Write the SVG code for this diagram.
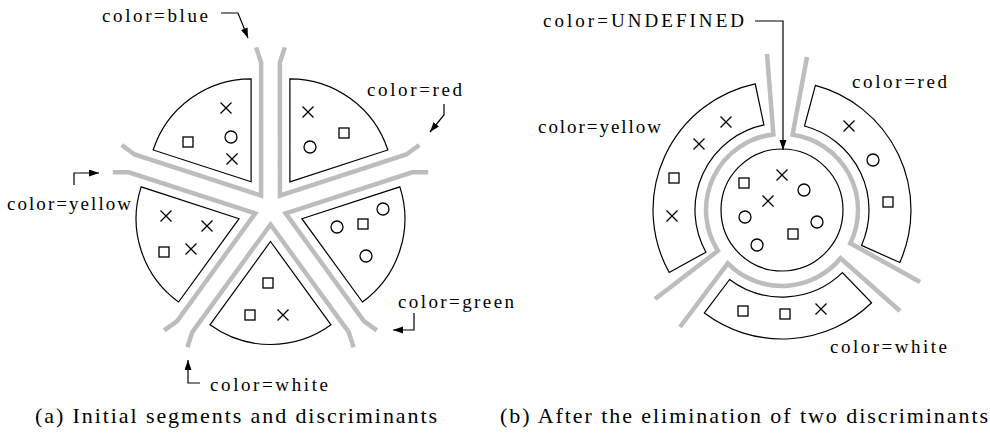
<svg xmlns="http://www.w3.org/2000/svg" width="990" height="441" viewBox="0 0 990 441">
<style>
.seg{fill:none;stroke:#000;stroke-width:1.2}
.disc{fill:none;stroke:#bdbdbd;stroke-width:4.5;stroke-linejoin:miter}
.sym{fill:none;stroke:#000;stroke-width:1.3}
.lbl{font-family:"Liberation Serif","DejaVu Serif",serif;font-size:19px;fill:#000}
.cap{font-family:"Liberation Serif","DejaVu Serif",serif;font-size:22px;fill:#000}
.ptr{fill:none;stroke:#000;stroke-width:1.2}
</style>
<defs>
<path id="wedge" d="M33 0 L116.33 -60.54 A103 103 0 0 1 116.33 60.54 Z"/>
<path id="vee" d="M138.8 -83.1 L123.6 -78.2 L16 0 L123.6 78.2 L138.8 83.1"/>
<path id="x" d="M-5.5 -5.5 L5.5 5.5 M-5.5 5.5 L5.5 -5.5"/>
<rect id="sq" x="-5" y="-5" width="10" height="10"/>
<circle id="o" r="6"/>
<marker id="ah" markerWidth="11" markerHeight="8" refX="10" refY="3.5" orient="auto" markerUnits="userSpaceOnUse"><path d="M0 0 L10 3.5 L0 7 Z" fill="#000"/></marker>
</defs>
<rect width="990" height="441" fill="#fff"/>

<!-- (a) discriminants -->
<g id="discriminants-a" class="disc">
<use href="#vee" transform="translate(270.5 208.5) rotate(234)"/>
<use href="#vee" transform="translate(270.5 208.5) rotate(306)"/>
<use href="#vee" transform="translate(270.5 208.5) rotate(18)"/>
<use href="#vee" transform="translate(270.5 208.5) rotate(90)"/>
<use href="#vee" transform="translate(270.5 208.5) rotate(162)"/>
</g>

<g id="a-blue">
<use href="#wedge" class="seg" transform="translate(270.5 208.5) rotate(234)"/>
<use href="#x" class="sym" x="226" y="108"/><use href="#sq" class="sym" x="188" y="142"/><use href="#o" class="sym" x="231" y="137"/><use href="#x" class="sym" x="232" y="159"/>
<text class="lbl" x="102" y="21.5" textLength="106" lengthAdjust="spacing">color=blue</text>
</g>
<g id="a-red">
<use href="#wedge" class="seg" transform="translate(270.5 208.5) rotate(306)"/>
<use href="#x" class="sym" x="308" y="112"/><use href="#sq" class="sym" x="344" y="133"/><use href="#o" class="sym" x="310" y="147"/>
<text class="lbl" x="367" y="95.5" textLength="95" lengthAdjust="spacing">color=red</text>
</g>
<g id="a-green">
<use href="#wedge" class="seg" transform="translate(270.5 208.5) rotate(18)"/>
<use href="#o" class="sym" x="383" y="209"/><use href="#o" class="sym" x="337" y="227"/><use href="#sq" class="sym" x="363" y="224"/><use href="#o" class="sym" x="366" y="256"/>
<text class="lbl" x="398" y="308" textLength="116" lengthAdjust="spacing">color=green</text>
</g>
<g id="a-white">
<use href="#wedge" class="seg" transform="translate(270.5 208.5) rotate(90)"/>
<use href="#sq" class="sym" x="268" y="283"/><use href="#sq" class="sym" x="250" y="315"/><use href="#x" class="sym" x="283" y="315"/>
<text class="lbl" x="210" y="391" textLength="118" lengthAdjust="spacing">color=white</text>
</g>
<g id="a-yellow">
<use href="#wedge" class="seg" transform="translate(270.5 208.5) rotate(162)"/>
<use href="#x" class="sym" x="166" y="216"/><use href="#x" class="sym" x="207" y="226"/><use href="#sq" class="sym" x="164" y="252"/><use href="#x" class="sym" x="191" y="249"/>
<text class="lbl" x="7" y="209.5" textLength="124" lengthAdjust="spacing">color=yellow</text>
</g>

<!-- (b) discriminants -->
<g id="discriminants-b" class="disc">
<path d="M767 54 L773.4 134.5 A76 76 0 0 0 717.9 250.8 L655 299"/>
<path d="M807 57 L792.6 134.7 A76 76 0 0 1 850.3 243.3 L920 282"/>
<path d="M900 311 L840.6 258.3 A76 76 0 0 1 727.8 263.3 L680 327"/>
</g>

<g id="b-undefined">
<circle class="seg" cx="782" cy="210" r="61"/>
<use href="#sq" class="sym" x="744" y="183"/><use href="#x" class="sym" x="782" y="175"/><use href="#x" class="sym" x="768" y="201"/><use href="#o" class="sym" x="745" y="217"/><use href="#o" class="sym" x="804" y="190"/><use href="#o" class="sym" x="817" y="222"/><use href="#sq" class="sym" x="793" y="234"/><use href="#o" class="sym" x="757" y="245"/>
<text class="lbl" x="543" y="27" textLength="201" lengthAdjust="spacing">color=UNDEFINED</text>
</g>
<g id="b-yellow">
<path class="seg" d="M755.2 83.8 A129 129 0 0 0 669.2 272.5 L705.9 252.2 A87 87 0 0 1 763.9 124.9 Z"/>
<use href="#x" class="sym" x="726" y="122"/><use href="#x" class="sym" x="699" y="144"/><use href="#sq" class="sym" x="674" y="178"/><use href="#x" class="sym" x="672" y="216"/>
<text class="lbl" x="538" y="133" textLength="123" lengthAdjust="spacing">color=yellow</text>
</g>
<g id="b-red">
<path class="seg" d="M815.4 85.4 A129 129 0 0 1 899.8 262.5 L861.5 245.4 A87 87 0 0 0 804.5 126 Z"/>
<use href="#x" class="sym" x="849" y="126"/><use href="#o" class="sym" x="873" y="160"/><use href="#sq" class="sym" x="888" y="202"/>
<text class="lbl" x="852" y="88" textLength="95" lengthAdjust="spacing">color=red</text>
</g>
<g id="b-white">
<path class="seg" d="M871.6 302.8 A129 129 0 0 1 704.4 313 L729.6 279.5 A87 87 0 0 0 842.4 272.6 Z"/>
<use href="#sq" class="sym" x="743" y="311"/><use href="#sq" class="sym" x="785" y="314"/><use href="#x" class="sym" x="821" y="309"/>
<text class="lbl" x="830" y="353" textLength="117" lengthAdjust="spacing">color=white</text>
</g>

<g id="connectors" class="ptr">
<polyline points="221,13 238,13 248,38" marker-end="url(#ah)"/>
<polyline points="74,185 74,173 99,173" marker-end="url(#ah)"/>
<polyline points="444,104 444,115 430,132" marker-end="url(#ah)"/>
<polyline points="414,313 414,330 393,330" marker-end="url(#ah)"/>
<polyline points="200,383 188,383 188,360" marker-end="url(#ah)"/>
<polyline points="755,21 783,21 783,150" marker-end="url(#ah)"/>
</g>

<g id="captions">
<text class="cap" x="35" y="423" textLength="402" lengthAdjust="spacing">(a) Initial segments and discriminants</text>
<text class="cap" x="500" y="423" textLength="488" lengthAdjust="spacing">(b) After the elimination of two discriminants</text>
</g>
</svg>
